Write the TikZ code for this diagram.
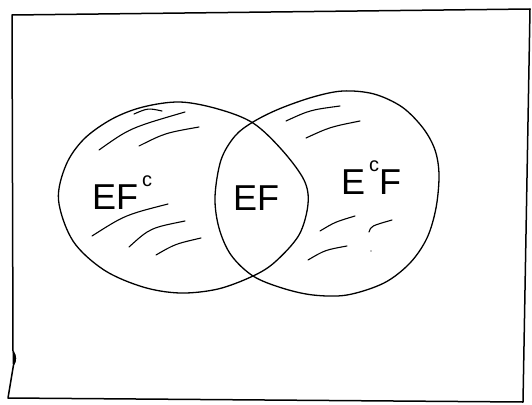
\documentclass[tikz,border=0pt]{standalone}
\usepackage{fontspec}
\setmainfont{Liberation Sans}
\newcommand{\supc}{\raisebox{0.62em}{\fontsize{20}{20}\selectfont c}}
\begin{document}
\begin{tikzpicture}[x=1pt,y=-1pt,
  ink/.style={line width=1.3pt, line cap=round, line join=round},
  hatch/.style={line width=1.1pt, line cap=round},
  lbl/.style={font=\fontsize{36}{36}\selectfont, inner sep=0pt, anchor=base}]
\useasboundingbox (0,0) rectangle (532,404);
% frame
\draw[line width=1.5pt, line join=round]
  (12,15) -- (530,9) -- (523,402) -- (8,398) -- (13.5,365)
  .. controls (16,361) and (16,356) .. (13,351) -- cycle;
\fill (13,352) .. controls (17,355) and (17,361) .. (14,364) -- (12.5,364) -- (12.5,352) -- cycle;
% left set E
\draw[ink] plot[smooth cycle, tension=0.55] coordinates {
  (58.5,200) (66,165) (84,139) (112,119) (143,107) (180,102) (218,109) (253,123)
  (282,150) (304,180) (308,204) (299,235) (275,262) (253,276) (218,289)
  (180,293) (143,287) (104,270) (73,241)};
% right set F
\draw[ink] plot[smooth cycle, tension=0.55] coordinates {
  (215,197) (221,160) (235,136) (253,122) (279,109) (313,97) (343,91)
  (374,94) (402,107) (423,128) (435,150) (439,175) (436,208) (427,238)
  (410,263) (384,283) (347,295) (313,295) (282,288) (253,276) (231,255) (219,228)};
% hatching left
\draw[hatch] (99,150) .. controls (130,128) .. (185,112);
\draw[hatch] (134,114) .. controls (148,108) .. (162,111);
\draw[hatch] (139,146) .. controls (165,133) .. (199,127);
\draw[hatch] (92,236) .. controls (125,215) .. (168,204);
\draw[hatch] (129,247) .. controls (150,228) .. (185,221);
\draw[hatch] (156,255) .. controls (175,244) .. (201,238);
% hatching right
\draw[hatch] (286,121) .. controls (310,110) .. (340,106);
\draw[hatch] (306,138) .. controls (330,127) .. (360,121);
\draw[hatch] (320,231) .. controls (335,222) .. (355,216);
\draw[hatch] (308,260) .. controls (325,250) .. (347,246);
\draw[hatch] (369,232) .. controls (371,226) .. (392,220);
\fill (371,251) circle (0.6pt);
% labels
\node[lbl] (efc) at (122,209) {EF\kern4pt\supc};
\node[lbl] (ef) at (256,210) {EF};
\node[lbl] (ecf) at (371,194) {E\kern4pt\supc F};
\end{tikzpicture}
\end{document}
